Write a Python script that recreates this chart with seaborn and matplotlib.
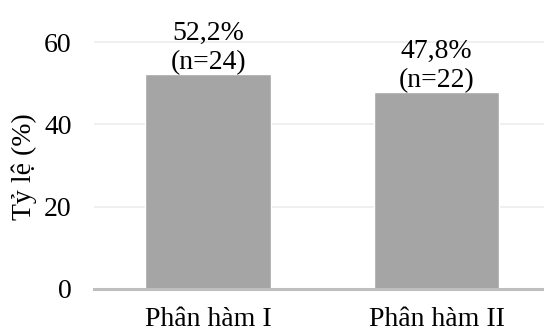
import matplotlib
matplotlib.use("Agg")
import matplotlib.pyplot as plt
import seaborn as sns
import pandas as pd

categories = ["Phân hàm I", "Phân hàm II"]
percentages = [52.2, 47.8]
counts = [24, 22]

sns.set_theme(style="white")
plt.rcParams["font.family"] = ["Liberation Serif", "DejaVu Serif"]

df = pd.DataFrame({"group": categories, "pct": percentages})

fig = plt.figure(figsize=(5.44, 3.32), dpi=100)
ax = fig.add_axes([94 / 544, 1 - 289 / 332, (544 - 94) / 544, 288 / 332])

sns.barplot(data=df, x="group", y="pct", color="#a5a5a5", saturation=1,
            width=0.55, ax=ax, zorder=3)

FS = 20
for i, (p, n) in enumerate(zip(percentages, counts)):
    ax.text(i, p - 0.2, f"{p:.1f}%".replace(".", ",") + f"\n(n={n})",
            ha="center", va="bottom", fontsize=FS, color="black",
            linespacing=1.2, zorder=4)

ax.set_ylim(0, 70)
ax.set_xlim(-0.5, 1.47)
ax.set_yticks([0, 20, 40, 60])
ax.yaxis.grid(True, color="#ececec", linewidth=1.2, zorder=0)
ax.set_axisbelow(True)

for s in ["top", "right", "left"]:
    ax.spines[s].set_visible(False)
ax.spines["bottom"].set_color("#bfbfbf")
ax.spines["bottom"].set_linewidth(2.2)
ax.spines["bottom"].set_zorder(5)

ax.tick_params(axis="both", length=0, labelsize=FS, colors="black")
ax.tick_params(axis="y", pad=16)
ax.tick_params(axis="x", pad=13)
ax.set_xlabel("")
ax.set_ylabel("Tỷ lệ (%)", fontsize=FS, color="black")
ax.yaxis.set_label_coords(-0.127, 0.425)

fig.savefig("out.png", dpi=100)
